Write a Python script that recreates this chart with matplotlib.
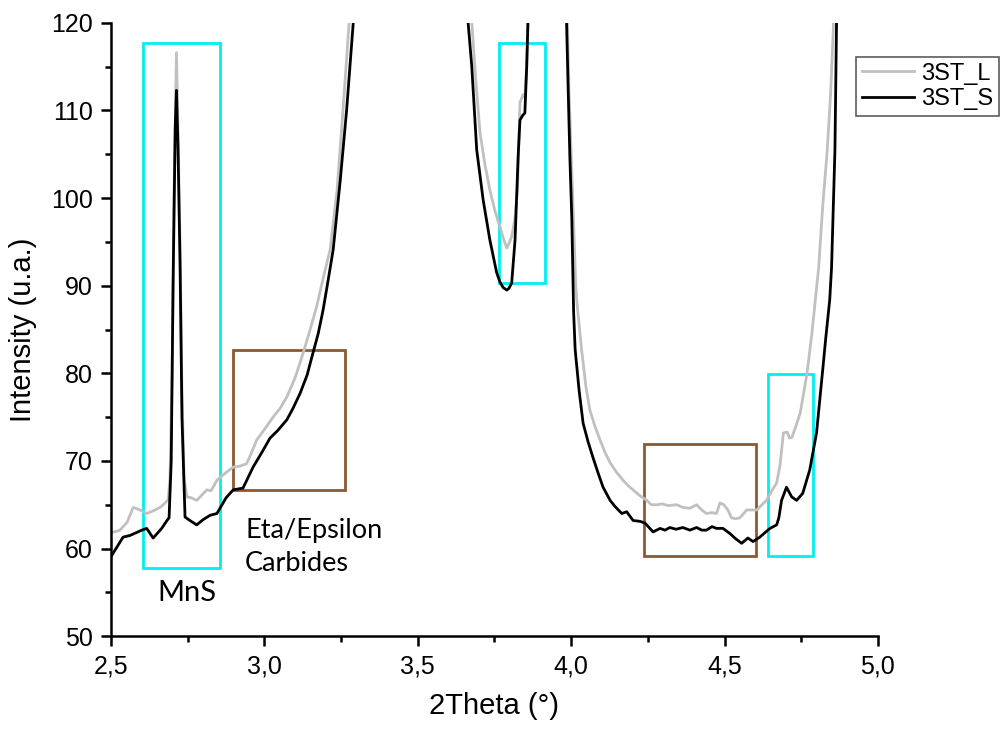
import numpy as np
import matplotlib
matplotlib.use("Agg")
import matplotlib.pyplot as plt
from matplotlib.patches import Rectangle
from matplotlib.ticker import MultipleLocator, FuncFormatter

plt.rcParams["font.family"] = ["Liberation Sans", "DejaVu Sans"]

nan = np.nan

# 3ST_S (negro) - segmentos separados por NaN donde la curva sale del grafico
x_s = [2.500, 2.539, 2.562, 2.600, 2.616, 2.637, 2.665, 2.682, 2.689, 2.696, 2.702, 2.709,
       2.713, 2.718, 2.725, 2.731, 2.741, 2.757, 2.779, 2.800, 2.823, 2.845, 2.855, 2.875,
       2.898, 2.930, 2.963, 2.992, 3.018, 3.044, 3.073, 3.093, 3.116, 3.139, 3.158, 3.175,
       3.191, 3.207, 3.224, 3.247, 3.268, 3.289, 3.305, nan,
       3.657, 3.664, 3.676, 3.692, 3.713, 3.735, 3.757, 3.768, 3.778, 3.790, 3.797, 3.806,
       3.817, 3.827, 3.833, 3.843, 3.849, 3.855, 3.859, 3.862, nan,
       3.983, 3.985, 3.990, 3.996, 4.002, 4.008, 4.013, 4.026, 4.039, 4.055, 4.071, 4.088,
       4.104, 4.127, 4.143, 4.165, 4.181, 4.202, 4.225, 4.241, 4.267, 4.290, 4.306, 4.322,
       4.342, 4.364, 4.387, 4.409, 4.426, 4.441, 4.459, 4.474, 4.495, 4.518, 4.537, 4.556,
       4.576, 4.593, 4.615, 4.648, 4.670, 4.677, 4.686, 4.702, 4.719, 4.735, 4.755, 4.778,
       4.800, 4.821, 4.830, 4.843, 4.849, 4.860, 4.865, 4.868]
y_s = [59.1, 61.3, 61.5, 62.1, 62.3, 61.2, 62.3, 63.2, 63.5, 70.0, 90.0, 108.0,
       112.3, 106.0, 92.0, 75.0, 63.6, 63.2, 62.7, 63.3, 63.8, 64.0, 64.6, 65.8,
       66.7, 66.9, 69.3, 71.0, 72.6, 73.5, 74.7, 76.0, 77.7, 79.8, 82.3, 84.5,
       87.2, 90.5, 94.1, 102.0, 110.1, 119.8, 127.0, nan,
       127.0, 120.0, 115.0, 105.5, 99.8, 95.2, 91.5, 90.4, 89.8, 89.5, 89.7, 90.3,
       95.2, 104.7, 108.9, 109.5, 109.7, 115.0, 120.0, 127.0, nan,
       127.0, 120.0, 112.7, 104.4, 97.8, 87.0, 82.7, 78.0, 74.3, 72.2, 70.4, 68.6,
       67.0, 65.5, 64.8, 64.0, 64.2, 63.2, 63.1, 62.9, 61.9, 62.3, 62.1, 62.4,
       62.2, 62.4, 62.1, 62.4, 62.1, 62.1, 62.5, 62.3, 62.3, 61.7, 61.1, 60.6,
       61.2, 60.8, 61.3, 62.3, 62.7, 63.5, 65.5, 67.0, 65.9, 65.5, 66.3, 69.0,
       73.2, 80.7, 84.0, 88.4, 92.1, 105.5, 119.5, 127.0]

# 3ST_L (gris)
x_l = [2.500, 2.529, 2.552, 2.572, 2.595, 2.616, 2.637, 2.660, 2.676, 2.686, 2.692, 2.699,
       2.705, 2.713, 2.718, 2.725, 2.731, 2.738, 2.747, 2.761, 2.779, 2.793, 2.812, 2.826,
       2.845, 2.872, 2.898, 2.920, 2.942, 2.956, 2.975, 3.002, 3.028, 3.051, 3.073, 3.100,
       3.126, 3.149, 3.170, 3.191, 3.214, 3.237, 3.256, 3.276, 3.282, nan,
       3.669, 3.676, 3.690, 3.703, 3.719, 3.735, 3.751, 3.768, 3.778, 3.790, 3.797, 3.806,
       3.816, 3.825, 3.833, 3.843, 3.849, 3.855, 3.859, 3.862, nan,
       3.986, 3.988, 3.993, 4.001, 4.009, 4.015, 4.019, 4.034, 4.048, 4.061, 4.077, 4.094,
       4.110, 4.127, 4.146, 4.169, 4.185, 4.202, 4.225, 4.247, 4.261, 4.280, 4.297, 4.316,
       4.344, 4.364, 4.387, 4.409, 4.426, 4.441, 4.459, 4.474, 4.485, 4.498, 4.511, 4.523,
       4.537, 4.550, 4.572, 4.589, 4.605, 4.622, 4.637, 4.654, 4.670, 4.681, 4.692, 4.704,
       4.712, 4.720, 4.734, 4.747, 4.769, 4.785, 4.796, 4.807, 4.820, 4.835, 4.846, 4.855,
       4.858]
y_l = [61.8, 62.1, 63.0, 64.7, 64.4, 64.0, 64.3, 64.7, 65.2, 65.6, 68.0, 80.0,
       100.0, 116.6, 108.0, 94.0, 78.0, 68.0, 65.9, 65.8, 65.5, 66.0, 66.7, 66.6,
       67.8, 68.6, 69.3, 69.4, 69.7, 70.8, 72.4, 73.7, 75.0, 76.0, 77.3, 79.5,
       82.3, 85.0, 87.6, 90.8, 94.1, 101.0, 110.0, 120.0, 127.0, nan,
       127.0, 120.0, 113.0, 107.4, 103.8, 100.9, 98.6, 96.7, 95.5, 94.3, 94.8, 95.6,
       97.5, 100.9, 110.9, 111.8, 111.5, 115.0, 120.0, 127.0, nan,
       127.0, 120.0, 112.0, 104.0, 96.0, 90.0, 88.0, 82.7, 78.5, 75.8, 74.0, 72.4,
       71.0, 69.8, 68.8, 67.8, 67.2, 66.7, 66.0, 65.5, 65.0, 65.0, 65.1, 64.9,
       65.0, 64.7, 64.6, 65.0, 64.4, 64.0, 64.1, 64.0, 65.2, 65.0, 64.4, 63.5,
       63.4, 63.5, 64.4, 64.4, 64.4, 65.0, 65.5, 66.6, 67.5, 69.5, 73.2, 73.3,
       72.6, 72.7, 74.1, 75.5, 80.0, 84.6, 88.4, 92.1, 99.0, 105.5, 112.0, 119.5,
       127.0]

# recuadros: (x0, x1, y0, y1)
cyan_boxes = [(2.604, 2.855, 57.8, 117.7),
              (3.766, 3.915, 90.3, 117.7),
              (4.643, 4.789, 59.1, 79.9)]
brown_boxes = [(2.899, 3.264, 66.7, 82.7),
               (4.238, 4.601, 59.1, 71.9)]

fig = plt.figure(figsize=(10.01, 7.38), dpi=100)
ax = fig.add_axes([0.111, 0.138, 0.766, 0.831])

ax.plot(x_l, y_l, color="#c0c0c0", lw=2.0, label="3ST_L")
ax.plot(x_s, y_s, color="black", lw=2.0, label="3ST_S")

for x0, x1, y0, y1 in cyan_boxes:
    ax.add_patch(Rectangle((x0, y0), x1 - x0, y1 - y0, fill=False, ec="#00f0f0", lw=2.0))
for x0, x1, y0, y1 in brown_boxes:
    ax.add_patch(Rectangle((x0, y0), x1 - x0, y1 - y0, fill=False, ec="#8c5a32", lw=2.0))

ax.text(2.748, 54.9, "MnS", fontsize=21, family=["Lato", "DejaVu Sans"], ha="center", va="center")
ax.text(2.937, 60.2, "Eta/Epsilon\nCarbides", fontsize=19.5, family=["Lato", "DejaVu Sans"],
        ha="left", va="center", linespacing=1.4)

ax.set_xlim(2.5, 5.0)
ax.set_ylim(50, 120)
ax.xaxis.set_major_locator(MultipleLocator(0.5))
ax.xaxis.set_minor_locator(MultipleLocator(0.25))
ax.yaxis.set_major_locator(MultipleLocator(10))
ax.yaxis.set_minor_locator(MultipleLocator(5))
ax.xaxis.set_major_formatter(FuncFormatter(lambda v, p: f"{v:.1f}".replace(".", ",")))

for s in ["top", "right"]:
    ax.spines[s].set_visible(False)
for s in ["left", "bottom"]:
    ax.spines[s].set_linewidth(1.8)
ax.tick_params(which="major", direction="out", length=7, width=1.8, labelsize=18, pad=6)
ax.tick_params(which="minor", direction="out", length=4, width=1.8)

ax.set_xlabel("2Theta (°)", fontsize=21, labelpad=10)
ax.set_ylabel("Intensity (u.a.)", fontsize=21, labelpad=10)

leg = fig.legend(loc="upper right", bbox_to_anchor=(0.998, 0.923), fontsize=17,
                 frameon=True, fancybox=False, edgecolor="#333333",
                 handlelength=2.2, handletextpad=0.3, borderpad=0.25, labelspacing=0.15,
                 borderaxespad=0)
leg.get_frame().set_linewidth(1.2)

fig.savefig("out.png", dpi=100)
